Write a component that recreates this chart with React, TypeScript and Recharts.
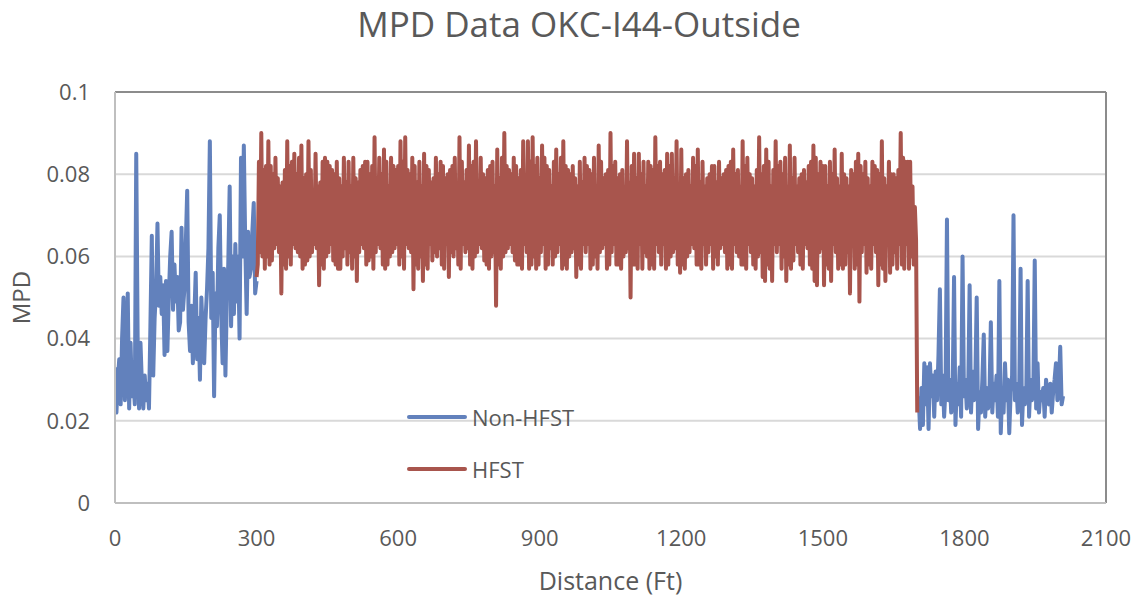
import { LineChart, Line, XAxis, YAxis, CartesianGrid, Legend, ReferenceLine } from 'recharts';

const FONT = '"Open Sans", sans-serif';
const INK = '#595959';
const BLUE = '#6281BC';
const RED = '#A8554D';

const distanceTicks = [0, 300, 600, 900, 1200, 1500, 1800, 2100];
const mpdTicks = [0, 0.02, 0.04, 0.06, 0.08, 0.1];

// Non-HFST, first stretch: 0 ft to 300 ft, one reading every 3 ft
const nonHfstLeftStart = 0;
const nonHfstLeftStep = 3;
const nonHfstLeft = [
  0.033, 0.022, 0.030, 0.035, 0.024, 0.040, 0.050, 0.025, 0.036, 0.051,
  0.023, 0.039, 0.026, 0.030, 0.024, 0.085, 0.040, 0.023, 0.039, 0.029,
  0.023, 0.031, 0.025, 0.029, 0.023, 0.043, 0.065, 0.031, 0.045, 0.052,
  0.068, 0.048, 0.055, 0.046, 0.053, 0.036, 0.054, 0.037, 0.050, 0.060,
  0.066, 0.047, 0.058, 0.049, 0.055, 0.042, 0.044, 0.067, 0.047, 0.052,
  0.063, 0.076, 0.044, 0.037, 0.048, 0.034, 0.045, 0.056, 0.035, 0.045,
  0.030, 0.050, 0.041, 0.034, 0.045, 0.052, 0.062, 0.088, 0.045, 0.056,
  0.026, 0.051, 0.043, 0.062, 0.070, 0.046, 0.034, 0.057, 0.031, 0.050,
  0.058, 0.077, 0.043, 0.060, 0.046, 0.063, 0.049, 0.060, 0.040, 0.084,
  0.060, 0.087, 0.063, 0.046, 0.066, 0.055, 0.057, 0.066, 0.073, 0.051,
  0.054,
];

// HFST: 300 ft to 1700 ft, one reading every 2.5 ft (one row = 50 ft)
const hfstStart = 300;
const hfstStep = 2.5;
const hfst = [
  0.055, 0.058, 0.083, 0.061, 0.090, 0.060, 0.081, 0.057, 0.082, 0.060, 0.088, 0.058, 0.082, 0.059, 0.080, 0.062, 0.084, 0.063, 0.079, 0.061,
  0.077, 0.051, 0.078, 0.058, 0.081, 0.057, 0.088, 0.060, 0.082, 0.058, 0.083, 0.063, 0.085, 0.062, 0.080, 0.061, 0.084, 0.060, 0.087, 0.057,
  0.079, 0.058, 0.080, 0.059, 0.088, 0.060, 0.081, 0.061, 0.076, 0.063, 0.085, 0.062, 0.077, 0.053, 0.078, 0.058, 0.083, 0.057, 0.084, 0.060,
  0.083, 0.061, 0.082, 0.063, 0.081, 0.059, 0.080, 0.058, 0.083, 0.057, 0.079, 0.057, 0.077, 0.060, 0.084, 0.062, 0.078, 0.058, 0.083, 0.061,
  0.077, 0.057, 0.084, 0.060, 0.079, 0.054, 0.078, 0.061, 0.081, 0.063, 0.082, 0.062, 0.083, 0.058, 0.083, 0.059, 0.080, 0.060, 0.082, 0.057,
  0.089, 0.061, 0.079, 0.063, 0.084, 0.062, 0.080, 0.058, 0.086, 0.057, 0.083, 0.058, 0.077, 0.060, 0.084, 0.061, 0.082, 0.062, 0.081, 0.063,
  0.082, 0.058, 0.088, 0.060, 0.083, 0.057, 0.089, 0.063, 0.081, 0.062, 0.080, 0.061, 0.084, 0.052, 0.082, 0.058, 0.078, 0.057, 0.083, 0.060,
  0.077, 0.054, 0.085, 0.058, 0.082, 0.057, 0.081, 0.063, 0.078, 0.059, 0.079, 0.061, 0.084, 0.060, 0.080, 0.062, 0.083, 0.058, 0.082, 0.057,
  0.079, 0.063, 0.080, 0.055, 0.081, 0.061, 0.082, 0.060, 0.084, 0.062, 0.077, 0.058, 0.089, 0.057, 0.083, 0.063, 0.078, 0.061, 0.081, 0.062,
  0.087, 0.058, 0.082, 0.057, 0.083, 0.060, 0.088, 0.061, 0.077, 0.063, 0.084, 0.062, 0.080, 0.059, 0.079, 0.058, 0.081, 0.057, 0.082, 0.060,
  0.083, 0.061, 0.077, 0.048, 0.086, 0.058, 0.079, 0.057, 0.084, 0.060, 0.090, 0.061, 0.082, 0.062, 0.081, 0.063, 0.080, 0.061, 0.084, 0.059,
  0.082, 0.058, 0.079, 0.058, 0.081, 0.057, 0.088, 0.063, 0.077, 0.061, 0.088, 0.057, 0.083, 0.058, 0.089, 0.060, 0.082, 0.057, 0.084, 0.058,
  0.079, 0.061, 0.087, 0.063, 0.084, 0.057, 0.082, 0.058, 0.081, 0.062, 0.077, 0.058, 0.083, 0.060, 0.086, 0.061, 0.080, 0.063, 0.084, 0.057,
  0.088, 0.058, 0.082, 0.057, 0.081, 0.060, 0.080, 0.061, 0.082, 0.062, 0.079, 0.055, 0.077, 0.058, 0.083, 0.057, 0.078, 0.063, 0.084, 0.061,
  0.082, 0.063, 0.081, 0.057, 0.080, 0.058, 0.084, 0.060, 0.077, 0.057, 0.087, 0.061, 0.083, 0.062, 0.079, 0.063, 0.080, 0.057, 0.081, 0.058,
  0.090, 0.061, 0.082, 0.063, 0.083, 0.058, 0.079, 0.058, 0.080, 0.057, 0.081, 0.060, 0.077, 0.061, 0.088, 0.062, 0.078, 0.050, 0.082, 0.058,
  0.085, 0.058, 0.079, 0.057, 0.085, 0.063, 0.080, 0.057, 0.083, 0.061, 0.077, 0.060, 0.083, 0.057, 0.082, 0.058, 0.081, 0.057, 0.089, 0.063,
  0.082, 0.061, 0.083, 0.058, 0.080, 0.063, 0.081, 0.057, 0.085, 0.058, 0.082, 0.060, 0.085, 0.061, 0.079, 0.062, 0.088, 0.058, 0.077, 0.056,
  0.086, 0.058, 0.079, 0.057, 0.080, 0.060, 0.081, 0.061, 0.077, 0.063, 0.084, 0.062, 0.082, 0.058, 0.086, 0.058, 0.078, 0.057, 0.083, 0.063,
  0.077, 0.058, 0.079, 0.061, 0.080, 0.063, 0.082, 0.057, 0.082, 0.060, 0.078, 0.058, 0.083, 0.062, 0.079, 0.063, 0.080, 0.061, 0.081, 0.057,
  0.082, 0.058, 0.083, 0.057, 0.086, 0.063, 0.080, 0.061, 0.081, 0.060, 0.077, 0.058, 0.088, 0.058, 0.082, 0.057, 0.084, 0.063, 0.080, 0.061,
  0.079, 0.058, 0.077, 0.057, 0.081, 0.060, 0.089, 0.061, 0.080, 0.055, 0.082, 0.054, 0.086, 0.058, 0.083, 0.057, 0.077, 0.054, 0.081, 0.063,
  0.088, 0.061, 0.082, 0.063, 0.083, 0.057, 0.080, 0.060, 0.084, 0.054, 0.077, 0.058, 0.087, 0.057, 0.079, 0.059, 0.084, 0.063, 0.077, 0.061,
  0.079, 0.058, 0.080, 0.057, 0.081, 0.063, 0.078, 0.062, 0.082, 0.058, 0.083, 0.057, 0.087, 0.054, 0.084, 0.053, 0.080, 0.061, 0.083, 0.062,
  0.082, 0.053, 0.082, 0.058, 0.077, 0.057, 0.083, 0.054, 0.080, 0.063, 0.086, 0.061, 0.079, 0.057, 0.077, 0.058, 0.085, 0.057, 0.080, 0.058,
  0.079, 0.061, 0.077, 0.051, 0.081, 0.063, 0.080, 0.057, 0.083, 0.058, 0.085, 0.049, 0.082, 0.061, 0.080, 0.063, 0.083, 0.056, 0.079, 0.058,
  0.077, 0.057, 0.083, 0.063, 0.082, 0.061, 0.081, 0.053, 0.080, 0.058, 0.088, 0.057, 0.079, 0.054, 0.077, 0.063, 0.083, 0.056, 0.080, 0.058,
  0.080, 0.061, 0.079, 0.057, 0.081, 0.063, 0.090, 0.058, 0.084, 0.057, 0.083, 0.063, 0.083, 0.057, 0.083, 0.060, 0.077, 0.058, 0.072, 0.064,
  0.022,
];

// Non-HFST, second stretch: 1703 ft to 2009 ft, one reading every 3 ft
const nonHfstRightStart = 1703;
const nonHfstRightStep = 3;
const nonHfstRight = [
  0.026, 0.018, 0.028, 0.019, 0.034, 0.024, 0.033, 0.018, 0.034, 0.026,
  0.031, 0.021, 0.032, 0.025, 0.036, 0.052, 0.024, 0.031, 0.021, 0.028,
  0.069, 0.025, 0.030, 0.022, 0.027, 0.055, 0.019, 0.029, 0.024, 0.033,
  0.021, 0.060, 0.026, 0.030, 0.023, 0.027, 0.053, 0.022, 0.032, 0.025,
  0.029, 0.050, 0.018, 0.027, 0.022, 0.030, 0.041, 0.021, 0.028, 0.023,
  0.026, 0.044, 0.022, 0.029, 0.025, 0.031, 0.021, 0.054, 0.017, 0.027,
  0.022, 0.034, 0.025, 0.030, 0.017, 0.027, 0.031, 0.070, 0.025, 0.029,
  0.022, 0.026, 0.057, 0.019, 0.028, 0.024, 0.026, 0.054, 0.021, 0.030,
  0.025, 0.027, 0.059, 0.023, 0.034, 0.022, 0.027, 0.025, 0.028, 0.021,
  0.030, 0.026, 0.024, 0.029, 0.022, 0.027, 0.030, 0.034, 0.025, 0.028,
  0.038, 0.024, 0.026,
];

type Row = { d: number; mpd: number | null };

const toRows = (start: number, step: number, values: number[]): Row[] =>
  values.map((v, i) => ({ d: start + i * step, mpd: v }));

const nonHfstData: Row[] = [
  ...toRows(nonHfstLeftStart, nonHfstLeftStep, nonHfstLeft),
  { d: 1000, mpd: null }, // break between the two untreated stretches
  ...toRows(nonHfstRightStart, nonHfstRightStep, nonHfstRight),
];
const hfstData: Row[] = toRows(hfstStart, hfstStep, hfst);

const legendItems = [
  { name: 'Non-HFST', color: BLUE },
  { name: 'HFST', color: RED },
];

const LegendBox = () => (
  <div style={{ fontFamily: FONT, fontSize: 22, color: INK }}>
    {legendItems.map(item => (
      <div key={item.name} style={{ display: 'flex', alignItems: 'center', height: 52 }}>
        <span style={{ width: 60, height: 4, borderRadius: 2, background: item.color, marginRight: 5 }} />
        <span>{item.name}</span>
      </div>
    ))}
  </div>
);

const tickStyle = { fontSize: 22, fill: INK, fontFamily: FONT };

export default function App() {
  return (
    <div style={{ position: 'absolute', left: 0, top: 0, width: 1139, height: 599, background: '#fff' }}>
      <div
        style={{
          position: 'absolute', left: 19, width: 1120, top: 4, textAlign: 'center',
          fontFamily: FONT, fontSize: 35, lineHeight: '40px', color: INK, whiteSpace: 'nowrap',
        }}
      >
        MPD Data OKC-I44-Outside
      </div>
      <LineChart width={1139} height={599} data={hfstData} margin={{ top: 92, right: 33, bottom: 0, left: 0 }}>
        <CartesianGrid vertical={false} stroke="#D9D9D9" strokeWidth={2} />
        <XAxis
          dataKey="d" type="number" domain={[0, 2100]} ticks={distanceTicks} allowDataOverflow
          height={96} tick={tickStyle} tickLine={false} tickSize={0} tickMargin={27}
          axisLine={{ stroke: '#BFBFBF', strokeWidth: 2 }}
          label={{ value: 'Distance (Ft)', position: 'insideBottom', offset: 9, style: { fontSize: 25, fill: INK, fontFamily: FONT } }}
        />
        <YAxis
          type="number" domain={[0, 0.1]} ticks={mpdTicks} allowDataOverflow width={115}
          tick={tickStyle} tickLine={false} tickSize={0} tickMargin={25}
          axisLine={{ stroke: '#BFBFBF', strokeWidth: 2 }}
          label={{ value: 'MPD', angle: -90, position: 'insideLeft', offset: 21, style: { fontSize: 24, fill: INK, fontFamily: FONT, textAnchor: 'middle' } }}
        />
        <ReferenceLine y={0.1} stroke="#8C8C8C" strokeWidth={2} />
        <ReferenceLine x={2100} stroke="#8C8C8C" strokeWidth={2} />
        <Legend
          layout="vertical" align="center" verticalAlign="middle"
          content={<LegendBox />}
          wrapperStyle={{ position: 'absolute', left: 407, top: 391, width: 200, height: 104 }}
        />
        <Line
          data={nonHfstData} dataKey="mpd" name="Non-HFST" type="linear" stroke={BLUE} strokeWidth={4}
          strokeLinejoin="round" dot={false} activeDot={false} connectNulls={false} isAnimationActive={false}
        />
        <Line
          data={hfstData} dataKey="mpd" name="HFST" type="linear" stroke={RED} strokeWidth={4}
          strokeLinejoin="round" dot={false} activeDot={false} isAnimationActive={false}
        />
      </LineChart>
    </div>
  );
}
